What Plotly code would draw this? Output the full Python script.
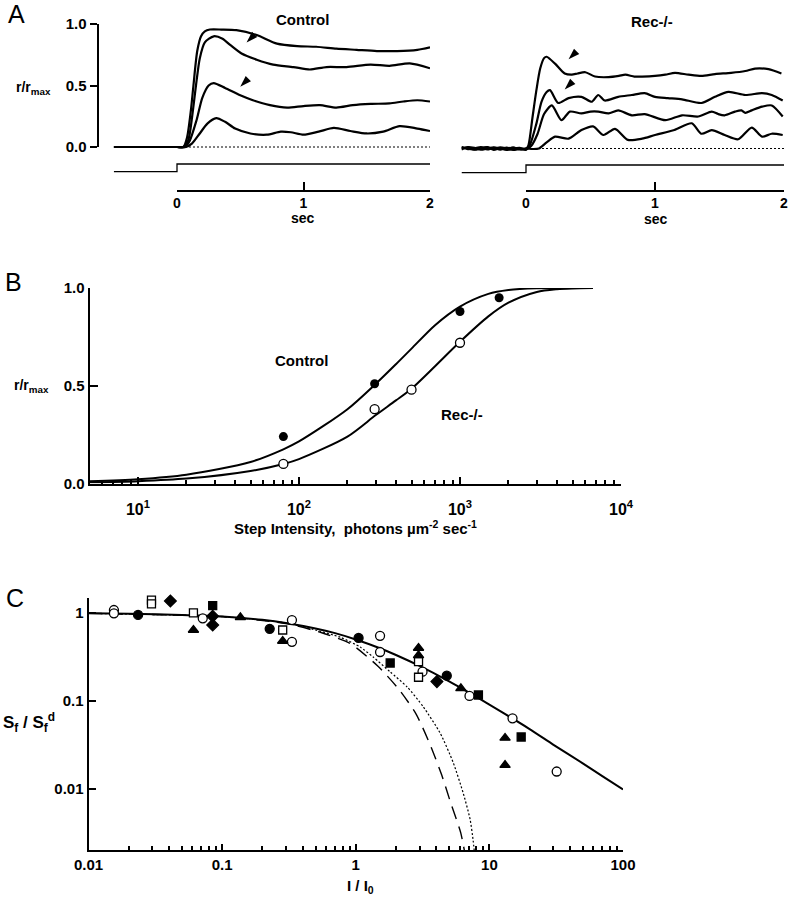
import math
import plotly.graph_objects as go

W, H = 790, 899
FONT = "Liberation Sans"

# ---------------- Panel A : response traces (t in s, r/rmax) ----------------
ctrl1_t = [-0.5, -0.2, 0.0, 0.05, 0.08, 0.11, 0.13, 0.16, 0.19, 0.22, 0.26, 0.35, 0.47, 0.63, 0.79, 0.95, 1.10, 1.26, 1.42, 1.58, 1.74, 1.90, 2.0]
ctrl1_v = [0, 0, 0, 0.0, 0.08, 0.30, 0.50, 0.78, 0.90, 0.94, 0.955, 0.955, 0.95, 0.91, 0.84, 0.82, 0.815, 0.80, 0.79, 0.78, 0.78, 0.79, 0.81]
ctrl2_t = [-0.5, -0.2, 0.0, 0.05, 0.09, 0.12, 0.15, 0.18, 0.22, 0.29, 0.36, 0.42, 0.51, 0.63, 0.76, 0.92, 1.05, 1.18, 1.34, 1.53, 1.68, 1.84, 2.0]
ctrl2_v = [0, 0, 0, 0.0, 0.06, 0.25, 0.50, 0.72, 0.85, 0.90, 0.88, 0.83, 0.76, 0.71, 0.67, 0.65, 0.63, 0.65, 0.65, 0.67, 0.66, 0.68, 0.64]
ctrl3_t = [-0.5, -0.2, 0.0, 0.06, 0.10, 0.155, 0.20, 0.25, 0.29, 0.38, 0.50, 0.60, 0.735, 0.87, 1.0, 1.13, 1.26, 1.39, 1.53, 1.68, 1.79, 1.90, 2.0]
ctrl3_v = [0, 0, 0, 0.0, 0.05, 0.22, 0.40, 0.50, 0.52, 0.48, 0.42, 0.38, 0.34, 0.32, 0.333, 0.34, 0.32, 0.34, 0.35, 0.355, 0.37, 0.38, 0.37]
ctrl4_t = [-0.5, -0.2, 0.0, 0.07, 0.12, 0.18, 0.24, 0.31, 0.38, 0.46, 0.58, 0.71, 0.82, 0.90, 1.0, 1.12, 1.24, 1.37, 1.50, 1.63, 1.76, 1.90, 2.0]
ctrl4_v = [0, 0, 0, 0.0, 0.03, 0.11, 0.19, 0.235, 0.205, 0.15, 0.11, 0.10, 0.125, 0.12, 0.10, 0.125, 0.155, 0.13, 0.11, 0.125, 0.17, 0.15, 0.13]

rec1_t = [-0.5, -0.45, -0.4, -0.35, -0.3, -0.25, -0.2, -0.15, -0.1, -0.05, 0.0, 0.02, 0.05, 0.08, 0.11, 0.14, 0.16, 0.225, 0.30, 0.355, 0.40, 0.46, 0.535, 0.64, 0.72, 0.77, 0.84, 0.90, 1.0, 1.08, 1.155, 1.26, 1.36, 1.465, 1.59, 1.70, 1.775, 1.88, 1.98]
rec1_v = [0.01, -0.005, 0.0, 0.012, -0.008, 0.005, -0.01, 0.008, -0.005, 0.0, -0.01, 0.03, 0.25, 0.47, 0.65, 0.735, 0.746, 0.69, 0.61, 0.60, 0.61, 0.62, 0.585, 0.58, 0.59, 0.60, 0.585, 0.585, 0.59, 0.60, 0.615, 0.60, 0.59, 0.605, 0.615, 0.63, 0.65, 0.645, 0.61]
rec2_t = [-0.5, -0.45, -0.4, -0.35, -0.3, -0.25, -0.2, -0.15, -0.1, -0.05, 0.0, 0.03, 0.08, 0.12, 0.16, 0.186, 0.25, 0.33, 0.43, 0.51, 0.56, 0.61, 0.715, 0.82, 0.92, 1.0, 1.10, 1.21, 1.36, 1.465, 1.57, 1.70, 1.83, 1.905, 1.99]
rec2_v = [-0.008, 0.01, -0.01, 0.0, 0.01, -0.012, 0.004, -0.006, 0.01, -0.008, 0.0, 0.03, 0.20, 0.38, 0.46, 0.475, 0.37, 0.41, 0.42, 0.38, 0.435, 0.39, 0.42, 0.435, 0.45, 0.42, 0.41, 0.40, 0.37, 0.42, 0.46, 0.435, 0.45, 0.435, 0.39]
rec3_t = [-0.5, -0.45, -0.4, -0.35, -0.3, -0.25, -0.2, -0.15, -0.1, -0.05, 0.0, 0.04, 0.09, 0.14, 0.20, 0.275, 0.34, 0.43, 0.50, 0.56, 0.64, 0.715, 0.82, 0.92, 1.08, 1.21, 1.335, 1.44, 1.49, 1.54, 1.62, 1.67, 1.70, 1.75, 1.83, 1.905, 1.99]
rec3_v = [0.0, 0.012, 0.005, -0.01, 0.0, 0.01, 0.0, -0.012, 0.0, 0.006, -0.008, 0.02, 0.12, 0.28, 0.35, 0.23, 0.30, 0.285, 0.30, 0.30, 0.285, 0.31, 0.27, 0.28, 0.23, 0.27, 0.26, 0.30, 0.28, 0.27, 0.30, 0.31, 0.29, 0.31, 0.34, 0.35, 0.26]
rec4_t = [-0.5, -0.45, -0.4, -0.35, -0.3, -0.25, -0.2, -0.15, -0.1, -0.05, 0.0, 0.05, 0.10, 0.16, 0.225, 0.33, 0.43, 0.52, 0.60, 0.69, 0.79, 0.90, 1.0, 1.15, 1.285, 1.36, 1.44, 1.54, 1.645, 1.75, 1.83, 1.905, 1.99]
rec4_v = [0.012, 0.0, -0.008, 0.005, 0.012, -0.004, 0.01, 0.0, -0.012, -0.004, 0.0, -0.004, 0.0, 0.05, 0.096, 0.08, 0.15, 0.18, 0.11, 0.16, 0.07, 0.08, 0.11, 0.15, 0.205, 0.12, 0.15, 0.11, 0.075, 0.17, 0.096, 0.12, 0.11]

# light-step monitor (off / on)
stim_t = [-0.5, 0.0, 0.0, 2.0]
stim_v = [0, 0, 1, 1]
zero_t = [0.0, 2.0]
zero_v = [0, 0]

# arrowheads (transient peaks)
ctrl_arrow_t = [0.55, 0.50]
ctrl_arrow_v = [0.85, 0.49]
rec_arrow_t = [0.33, 0.30]
rec_arrow_v = [0.725, 0.48]

# ---------------- Panel B : intensity-response ----------------
b_ctrl_I = [80, 295, 1000, 1750]
b_ctrl_r = [0.24, 0.51, 0.88, 0.95]
b_rec_I = [80, 295, 500, 1000]
b_rec_r = [0.10, 0.38, 0.48, 0.72]
b_ctrl_fit_I = [5, 10, 20, 50, 80, 100, 200, 300, 400, 500, 700, 1000, 1500, 2000, 3000, 5000, 6700]
b_ctrl_fit_r = [0.012, 0.022, 0.045, 0.11, 0.175, 0.215, 0.38, 0.51, 0.61, 0.69, 0.81, 0.905, 0.97, 0.99, 0.999, 1.0, 1.0]
b_rec_fit_I = [5, 10, 20, 50, 80, 100, 200, 300, 400, 500, 700, 1000, 1500, 2000, 3000, 4000, 5000, 6700]
b_rec_fit_r = [0.006, 0.012, 0.025, 0.064, 0.10, 0.125, 0.24, 0.35, 0.425, 0.485, 0.60, 0.725, 0.855, 0.925, 0.98, 0.994, 0.998, 1.0]

# ---------------- Panel C : Sf / Sf^d vs I / I0 ----------------
c_fcirc_x = [0.0235, 0.227, 1.05, 4.8]
c_fcirc_y = [0.95, 0.66, 0.52, 0.194]
c_ocirc_x = [0.0155, 0.0155, 0.0716, 0.333, 0.333, 1.52, 1.52, 3.16, 7.1, 14.9, 31.9]
c_ocirc_y = [1.08, 0.99, 0.87, 0.83, 0.47, 0.55, 0.36, 0.215, 0.114, 0.0636, 0.0158]
c_fsq_x = [0.085, 1.81, 8.28, 17.3]
c_fsq_y = [1.21, 0.27, 0.117, 0.039]
c_osq_x = [0.0296, 0.0296, 0.061, 0.284, 2.95, 2.95]
c_osq_y = [1.40, 1.27, 1.0, 0.64, 0.28, 0.186]
c_ftri_x = [0.061, 0.137, 0.284, 2.95, 2.95, 6.12, 13.1, 13.1]
c_ftri_y = [0.64, 0.89, 0.48, 0.40, 0.33, 0.139, 0.038, 0.0187]
c_fdia_x = [0.041, 0.085, 0.085, 4.05]
c_fdia_y = [1.37, 0.92, 0.73, 0.166]
c_solid_x = [0.01, 0.02, 0.05, 0.1, 0.2, 0.3, 0.5, 0.7, 1, 1.5, 2, 3, 5, 7, 10, 20, 30, 50, 70, 100]
c_solid_y = [0.99, 0.98, 0.95, 0.91, 0.835, 0.77, 0.667, 0.59, 0.5, 0.4, 0.333, 0.25, 0.167, 0.125, 0.091, 0.048, 0.032, 0.0196, 0.014, 0.0099]
c_dash_x = [0.01, 0.1, 0.3, 0.55, 0.91, 1.46, 2.11, 2.83, 3.6, 4.4, 5.13, 6.1, 6.5]
c_dash_y = [0.99, 0.91, 0.76, 0.60, 0.45, 0.25, 0.135, 0.071, 0.032, 0.0144, 0.007, 0.0032, 0.002]
c_dot_x = [0.01, 0.1, 0.3, 0.48, 0.766, 1.08, 1.35, 1.81, 2.43, 3.2, 4.29, 5.36, 6.37, 7.18, 7.56, 7.7]
c_dot_y = [0.99, 0.91, 0.77, 0.65, 0.53, 0.41, 0.316, 0.214, 0.144, 0.086, 0.043, 0.02, 0.009, 0.0045, 0.0026, 0.002]

# tick labels
a_ytick_vals = [0, 0.5, 1.0]
a_ytick_text = ["0.0", "0.5", "1.0"]
a_xtick_vals = [0, 1, 2]
a_xtick_text = ["0", "1", "2"]
b_xtick_vals = [10, 100, 1000, 10000]
b_xtick_text = ["10<sup>1</sup>", "10<sup>2</sup>", "10<sup>3</sup>", "10<sup>4</sup>"]
c_xtick_vals = [0.01, 0.1, 1, 10, 100]
c_xtick_text = ["0.01", "0.1", "1", "10", "100"]
c_ytick_vals = [0.01, 0.1, 1]
c_ytick_text = ["0.01", "0.1", "1"]


def dom_x(a, b):
    return [a / W, b / W]


def dom_y(top, bottom):
    return [1 - bottom / H, 1 - top / H]


def pos_x(p):
    return p / W


def pos_y(p):
    return 1 - p / H


def minor_log(lo_dec, hi_dec, start=2):
    vals = []
    for d in range(lo_dec, hi_dec):
        for m in range(start, 10):
            vals.append(m * 10 ** d)
    return vals


BLACK = "black"
tickfont = dict(family=FONT, size=15, color=BLACK, weight="bold")
fig = go.Figure()

LW = 2.2
for tt, vv in [(ctrl1_t, ctrl1_v), (ctrl2_t, ctrl2_v), (ctrl3_t, ctrl3_v), (ctrl4_t, ctrl4_v)]:
    fig.add_trace(go.Scatter(x=tt, y=vv, mode="lines", xaxis="x", yaxis="y",
                             line=dict(color=BLACK, width=LW, shape="spline", smoothing=0.7)))
for tt, vv in [(rec1_t, rec1_v), (rec2_t, rec2_v), (rec3_t, rec3_v), (rec4_t, rec4_v)]:
    fig.add_trace(go.Scatter(x=tt, y=vv, mode="lines", xaxis="x3", yaxis="y4",
                             line=dict(color=BLACK, width=LW, shape="spline", smoothing=0.7)))

fig.add_trace(go.Scatter(x=zero_t, y=zero_v, mode="lines", xaxis="x2", yaxis="y",
                         line=dict(color=BLACK, width=1, dash="2px,2px")))
fig.add_trace(go.Scatter(x=zero_t, y=zero_v, mode="lines", xaxis="x4", yaxis="y4",
                         line=dict(color=BLACK, width=1, dash="2px,2px")))
fig.add_trace(go.Scatter(x=stim_t, y=stim_v, mode="lines", xaxis="x", yaxis="y3",
                         line=dict(color=BLACK, width=1.3)))
fig.add_trace(go.Scatter(x=stim_t, y=stim_v, mode="lines", xaxis="x3", yaxis="y5",
                         line=dict(color=BLACK, width=1.3)))

arrow_marker = dict(symbol="arrow", size=12, color=BLACK, angle=225, line=dict(width=0))
fig.add_trace(go.Scatter(x=ctrl_arrow_t, y=ctrl_arrow_v, mode="markers", xaxis="x", yaxis="y2",
                         marker=arrow_marker))
fig.add_trace(go.Scatter(x=rec_arrow_t, y=rec_arrow_v, mode="markers", xaxis="x3", yaxis="y4",
                         marker=arrow_marker))

# Panel B
fig.add_trace(go.Scatter(x=b_ctrl_fit_I, y=b_ctrl_fit_r, mode="lines", xaxis="x5", yaxis="y6",
                         line=dict(color=BLACK, width=2, shape="spline", smoothing=0.8)))
fig.add_trace(go.Scatter(x=b_rec_fit_I, y=b_rec_fit_r, mode="lines", xaxis="x5", yaxis="y6",
                         line=dict(color=BLACK, width=2, shape="spline", smoothing=0.8)))
fig.add_trace(go.Scatter(x=b_ctrl_I, y=b_ctrl_r, mode="markers", xaxis="x5", yaxis="y6", cliponaxis=False,
                         marker=dict(symbol="circle", size=9, color=BLACK)))
fig.add_trace(go.Scatter(x=b_rec_I, y=b_rec_r, mode="markers", xaxis="x5", yaxis="y6", cliponaxis=False,
                         marker=dict(symbol="circle", size=9, color="white", line=dict(color=BLACK, width=1.3))))

# Panel C
fig.add_trace(go.Scatter(x=c_dash_x, y=c_dash_y, mode="lines", xaxis="x6", yaxis="y7",
                         line=dict(color=BLACK, width=1.4, dash="13px,8px", shape="spline", smoothing=0.6)))
fig.add_trace(go.Scatter(x=c_dot_x, y=c_dot_y, mode="lines", xaxis="x6", yaxis="y7",
                         line=dict(color=BLACK, width=1.2, dash="2px,2px", shape="spline", smoothing=0.6)))
fig.add_trace(go.Scatter(x=c_solid_x, y=c_solid_y, mode="lines", xaxis="x6", yaxis="y7",
                         line=dict(color=BLACK, width=2, shape="spline", smoothing=0.6)))
open_line = dict(color=BLACK, width=1.3)
for xs, ys, sym, fill, size in [
    (c_fcirc_x, c_fcirc_y, "circle", BLACK, 9),
    (c_ocirc_x, c_ocirc_y, "circle", "white", 9),
    (c_fsq_x, c_fsq_y, "square", BLACK, 8),
    (c_osq_x, c_osq_y, "square", "white", 8),
    (c_ftri_x, c_ftri_y, "triangle-up", BLACK, 9),
    (c_fdia_x, c_fdia_y, "diamond", BLACK, 9),
]:
    fig.add_trace(go.Scatter(x=xs, y=ys, mode="markers", xaxis="x6", yaxis="y7", cliponaxis=False,
                             marker=dict(symbol=sym, size=size, color=fill, line=open_line)))

hidden = dict(visible=False, showgrid=False, zeroline=False, automargin=False)
common_axis = dict(showline=True, linewidth=2, linecolor=BLACK, tickwidth=2, tickcolor=BLACK,
                   showgrid=False, zeroline=False, tickfont=tickfont, automargin=False)
small_tick = dict(family=FONT, size=14, color=BLACK, weight="bold")

fig.update_layout(
    template="none",
    width=W, height=H, autosize=False,
    margin=dict(l=0, r=0, t=0, b=0, pad=0),
    paper_bgcolor="white", plot_bgcolor="rgba(0,0,0,0)",
    showlegend=False,
    font=dict(family=FONT, color=BLACK),
    # A left
    xaxis=dict(domain=dom_x(113.75, 430), range=[-0.5, 2.0], anchor="y", **hidden),
    yaxis=dict(domain=dom_y(17.85, 190.05), range=[-0.35, 1.05], anchor="x", **hidden),
    xaxis2=dict(domain=dom_x(177, 430), range=[0, 2], anchor="free", position=pos_y(190.5),
                ticks="inside", ticklen=8, tickmode="array", tickvals=a_xtick_vals, ticktext=a_xtick_text,
                **{**common_axis, "tickfont": small_tick}),
    yaxis2=dict(domain=dom_y(24, 147), range=[0, 1], anchor="free", position=pos_x(97.5),
                ticks="outside", ticklen=7, tickmode="array", tickvals=a_ytick_vals, ticktext=a_ytick_text,
                **common_axis),
    yaxis3=dict(domain=dom_y(156.3, 179.4), range=[-1, 2], anchor="x", **hidden),
    # A right
    xaxis3=dict(domain=dom_x(461.5, 784), range=[-0.5, 2.0], anchor="y4", **hidden),
    yaxis4=dict(domain=dom_y(19.35, 191.55), range=[-0.35, 1.05], anchor="x3", **hidden),
    xaxis4=dict(domain=dom_x(526, 784), range=[0, 2], anchor="free", position=pos_y(190.5),
                ticks="inside", ticklen=8, tickmode="array", tickvals=a_xtick_vals, ticktext=a_xtick_text,
                **{**common_axis, "tickfont": small_tick}),
    yaxis5=dict(domain=dom_y(157.3, 180.4), range=[-1, 2], anchor="x3", **hidden),
    # B
    xaxis5=dict(type="log", domain=dom_x(89.5, 621), range=[math.log10(5), 4], anchor="y6",
                ticks="inside", ticklen=7, tickmode="array", tickvals=b_xtick_vals, ticktext=b_xtick_text,
                ticklabelstandoff=10,
                minor=dict(ticks="inside", ticklen=4, tickwidth=1.5, tickcolor=BLACK, showgrid=False,
                           tickmode="array", tickvals=minor_log(0, 4, 2) + [6, 7, 8, 9]),
                **{**common_axis, "tickfont": dict(family=FONT, size=16, color=BLACK, weight="bold")}),
    yaxis6=dict(domain=dom_y(288, 483.5), range=[0, 1], anchor="x5", side="left",
                ticks="inside", ticklen=8, tickmode="array", tickvals=a_ytick_vals, ticktext=a_ytick_text,
                **common_axis),
    # C
    xaxis6=dict(type="log", domain=dom_x(88.5, 623), range=[-2, 2], anchor="y7",
                ticks="inside", ticklen=6, tickmode="array", tickvals=c_xtick_vals, ticktext=c_xtick_text,
                minor=dict(ticks="inside", ticklen=4, tickwidth=1.5, tickcolor=BLACK, showgrid=False,
                           tickmode="array", tickvals=minor_log(-2, 2, 2)),
                **common_axis),
    yaxis7=dict(type="log", domain=dom_y(598, 850), range=[-2.693, 0.17], anchor="x6", side="left",
                ticks="inside", ticklen=7, tickmode="array", tickvals=c_ytick_vals, ticktext=c_ytick_text,
                **common_axis),
)


def ann(text, x, y, size=15, bold=True, **kw):
    fig.add_annotation(text=("<b>%s</b>" % text) if bold else text, x=pos_x(x), y=pos_y(y),
                       xref="paper", yref="paper", showarrow=False, xanchor="center", yanchor="middle",
                       font=dict(family=FONT, size=size, color=BLACK), **kw)


ann("A", 16, 14, size=25, bold=False)
ann("B", 13, 282, size=25, bold=False)
ann("C", 15, 598, size=25, bold=False)
ann("Control", 302, 20)
ann("Rec-/-", 652, 22)
ann("r/r<sub>max</sub>", 33, 88, size=14)
ann("sec", 303, 218, size=14)
ann("sec", 656, 219, size=14)
ann("r/r<sub>max</sub>", 31, 386, size=14)
ann("Control", 301, 360)
ann("Rec-/-", 462, 415)
ann("Step Intensity,  photons µm<sup>-2</sup> sec<sup>-1</sup>", 355, 527, size=15)
ann("S<sub>f</sub> / S<sub>f</sub><sup>d</sup>", 29, 722, size=17)
ann("I / I<sub>0</sub>", 360, 886, size=15)

# the page body gets no default 8px margin, so the figure sits at the window's corner
fig.write_html("out.html", config={"displayModeBar": False},
               post_script="document.body.style.margin='0px';")
